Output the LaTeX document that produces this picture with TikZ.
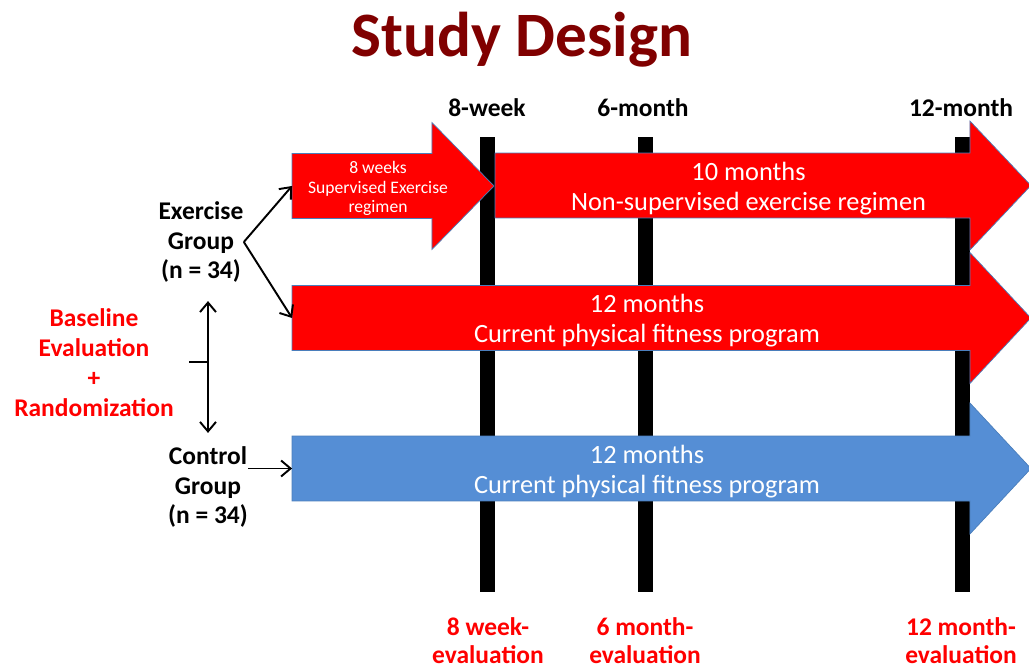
\documentclass[tikz,border=0pt]{standalone}
\usepackage{fontspec}
\setmainfont{Carlito}
\usetikzlibrary{arrows.meta}
\definecolor{titlered}{RGB}{128,0,0}
\definecolor{armred}{RGB}{255,0,0}
\definecolor{armblue}{RGB}{85,142,213}
\definecolor{armline}{RGB}{74,126,187}
\tikzset{
  bar/.style={
    rectangle,
    fill=black,
    minimum width=3mm,
    minimum height=91mm,
    inner sep=0mm
  },
  shaft/.style={
    rectangle,
    minimum height=13mm,
    inner sep=0mm,
    outer sep=0mm
  },
  armbody/.style={
    draw=armline,
    line width=0.4pt
  },
  armtext/.style={
    text=white,
    align=center,
    font=\fontsize{15}{17}\selectfont
  },
  grouplabel/.style={
    align=center,
    inner sep=0mm,
    font=\bfseries\fontsize{14.5}{17}\selectfont
  },
  evallabel/.style={
    align=center,
    inner sep=0mm,
    text=armred,
    font=\bfseries\fontsize{14.5}{16}\selectfont
  },
  link/.style={
    line width=1.1pt,
    >={Straight Barb[length=1.9mm,width=3.2mm]}
  }
}

\begin{document}
\begin{tikzpicture}[x=0.02cm,y=-0.02cm]
    \useasboundingbox (0,0) rectangle (1029,668);
    \clip (0,0) rectangle (1029,668);

    % title
    \node[text=titlered,font=\bfseries\fontsize{36}{40}\selectfont] (title) at (522,40) {Study Design};

    % time points
    \node[bar] (bwk) at (487.5,364.5) {};
    \node[bar] (bsix) at (645,364.5) {};
    \node[bar] (btwelve) at (962.5,364.5) {};
    \node[grouplabel] (hwk) at (487,108) {8-week};
    \node[grouplabel] (hsix) at (643,108) {6-month};
    \node[grouplabel] (htwelve) at (961,108) {12-month};

    % arms
    \node[shaft,minimum width=28mm] (supwk) at (362,186) {};
    \node[shaft,minimum width=95mm] (unsup) at (732.5,185.5) {};
    \node[shaft,minimum width=135.6mm] (fitex) at (631,318) {};
    \node[shaft,minimum width=135.6mm] (fitct) at (631,468.5) {};

    \filldraw[armbody,fill=armred] (supwk.north west) -- (supwk.north east) -- ++(0,-31) -- ++(62,63.5)
      -- ++(-62,63.5) -- ++(0,-31) -- (supwk.south west) -- cycle;
    \filldraw[armbody,fill=armred] (unsup.north west) -- (unsup.north east) -- ++(0,-32) -- ++(61,64.5)
      -- ++(-61,64.5) -- ++(0,-32) -- (unsup.south west) -- cycle;
    \filldraw[armbody,fill=armred] (fitex.north west) -- (fitex.north east) -- ++(0,-33) -- ++(61,65.5)
      -- ++(-61,65.5) -- ++(0,-33) -- (fitex.south west) -- cycle;
    \filldraw[armbody,fill=armblue] (fitct.north west) -- (fitct.north east) -- ++(0,-33) -- ++(61,65.5)
      -- ++(-61,65.5) -- ++(0,-33) -- (fitct.south west) -- cycle;

    \node[armtext,font=\fontsize{10}{11}\selectfont] (supwktext) at ([xshift=3.2mm,yshift=-0.5mm]supwk.center) {8 weeks\\Supervised Exercise\\regimen};
    \node[armtext] (unsuptext) at ([xshift=3.2mm,yshift=-0.7mm]unsup.center) {10 months\\Non-supervised exercise regimen};
    \node[armtext] (fitextext) at ([xshift=3.2mm,yshift=-0.6mm]fitex.center) {12 months\\Current physical fitness program};
    \node[armtext] (fitcttext) at ([xshift=3.2mm,yshift=-0.6mm]fitct.center) {12 months\\Current physical fitness program};

    % groups
    \node[grouplabel] (exgrp) at (201,242) {Exercise\\Group\\(n = 34)};
    \node[grouplabel] (ctgrp) at (208,487) {Control\\Group\\(n = 34)};
    \node[grouplabel,text=armred] (basel) at (94,362.5) {Baseline\\Evaluation\\+\\Randomization};

    \draw[link,->] (exgrp.east) -- (supwk.west);
    \draw[link,->] (exgrp.east) -- (fitex.west);
    \draw[link,->] (ctgrp.east |- fitct.west) -- (fitct.west);
    \draw[link,<->,shorten <=3.6mm,shorten >=2.6mm] (ctgrp.north |- exgrp.south) -- (ctgrp.north);
    \coordinate (rnd) at (208,362);
    \draw[link] (rnd) -- ++(-19,0);

    % evaluations
    \node[evallabel] (ewk) at (488,641) {8 week-\\evaluation};
    \node[evallabel] (esix) at (645,641) {6 month-\\evaluation};
    \node[evallabel] (etwelve) at (961,641) {12 month-\\evaluation};
\end{tikzpicture}
\end{document}
